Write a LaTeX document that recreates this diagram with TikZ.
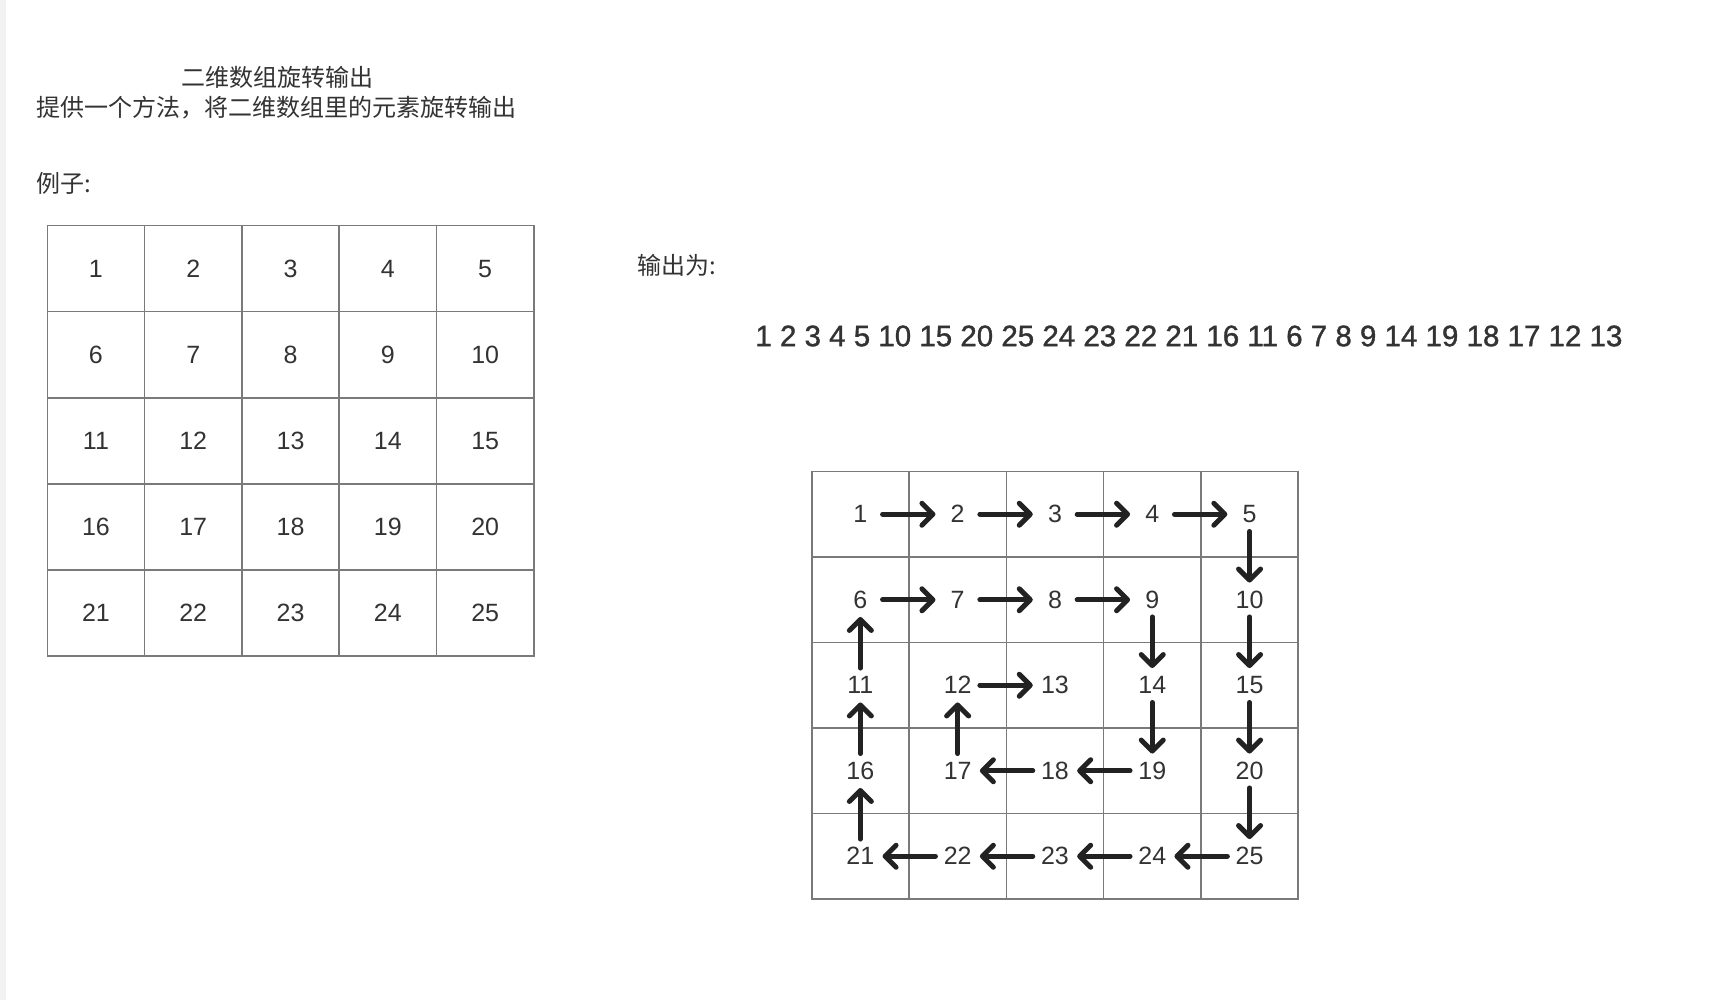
\documentclass[tikz,border=0pt]{standalone}
\usepackage{fontspec}
\setmainfont{Noto Sans CJK SC}
\newfontfamily\seqfont{Liberation Sans}[FakeBold=1.2]
\newfontfamily\digitfont{Liberation Sans}
\usepackage{tikz}
\usetikzlibrary{arrows.meta,positioning}
\definecolor{inkgray}{HTML}{333333}
\definecolor{linegray}{HTML}{7A7A7A}
\definecolor{arrowblack}{HTML}{222222}
\definecolor{stripgray}{HTML}{F2F2F2}
\tikzset{
  cell/.style={draw=linegray, line width=1.6pt, minimum width=97.3pt, minimum height=86pt,
    inner sep=0pt, text=inkgray, font=\digitfont\fontsize{25}{28}\selectfont},
  rcell/.style={cell, minimum height=85.5pt},
  num/.style={inner sep=0pt, minimum width=44pt, minimum height=34pt, text=inkgray,
    font=\digitfont\fontsize{25}{28}\selectfont},
  note/.style={anchor=west, inner sep=0pt, text=inkgray, font=\fontsize{24}{28}\selectfont},
  flow/.style={-{Straight Barb[length=11pt,width=22pt,round]}, line width=5pt,
    line cap=round, draw=arrowblack}
}

\begin{document}
\begin{tikzpicture}[x=1pt,y=-1pt]
\useasboundingbox (0,0) rectangle (1724,1000);
\fill[white] (0,0) rectangle (1724,1000);
\fill[stripgray] (0,0) rectangle (6,1000);

% headings
\node[note] (title) at (181,77) {二维数组旋转输出};
\node[note] (task) at (36,108) {提供一个方法，将二维数组里的元素旋转输出};
\node[note] (ex) at (36,183) {例子:};
\node[note] (out) at (637,265) {输出为:};
\node[inner sep=0pt, text=inkgray] (seq) at (1189,336)
  {\seqfont\fontsize{29.5}{32}\selectfont 1 2 3 4 5 10 15 20 25 24 23 22 21 16 11 6 7 8 9 14 19 18 17 12 13};

% left array
\foreach \i in {1,...,25} {
  \pgfmathtruncatemacro\row{(\i-1)/5}
  \pgfmathtruncatemacro\col{mod(\i-1,5)}
  \node[cell] (a\i) at ({95.95+97.3*\col},{268.7+86*\row}) {\i};
}

% right array with the spiral
\foreach \i in {1,...,25} {
  \pgfmathtruncatemacro\row{(\i-1)/5}
  \pgfmathtruncatemacro\col{mod(\i-1,5)}
  \node[rcell] (c\i) at ({860.35+97.3*\col},{514.25+85.5*\row}) {};
  \node[num] (n\i) at (c\i.center) {\i};
}
\foreach \s/\t in {1/2,2/3,3/4,4/5,5/10,10/15,15/20,20/25,25/24,24/23,23/22,22/21,
  21/16,16/11,11/6,6/7,7/8,8/9,9/14,14/19,19/18,18/17,17/12,12/13}
  \draw[flow] (n\s) -- (n\t);
\end{tikzpicture}
\end{document}
